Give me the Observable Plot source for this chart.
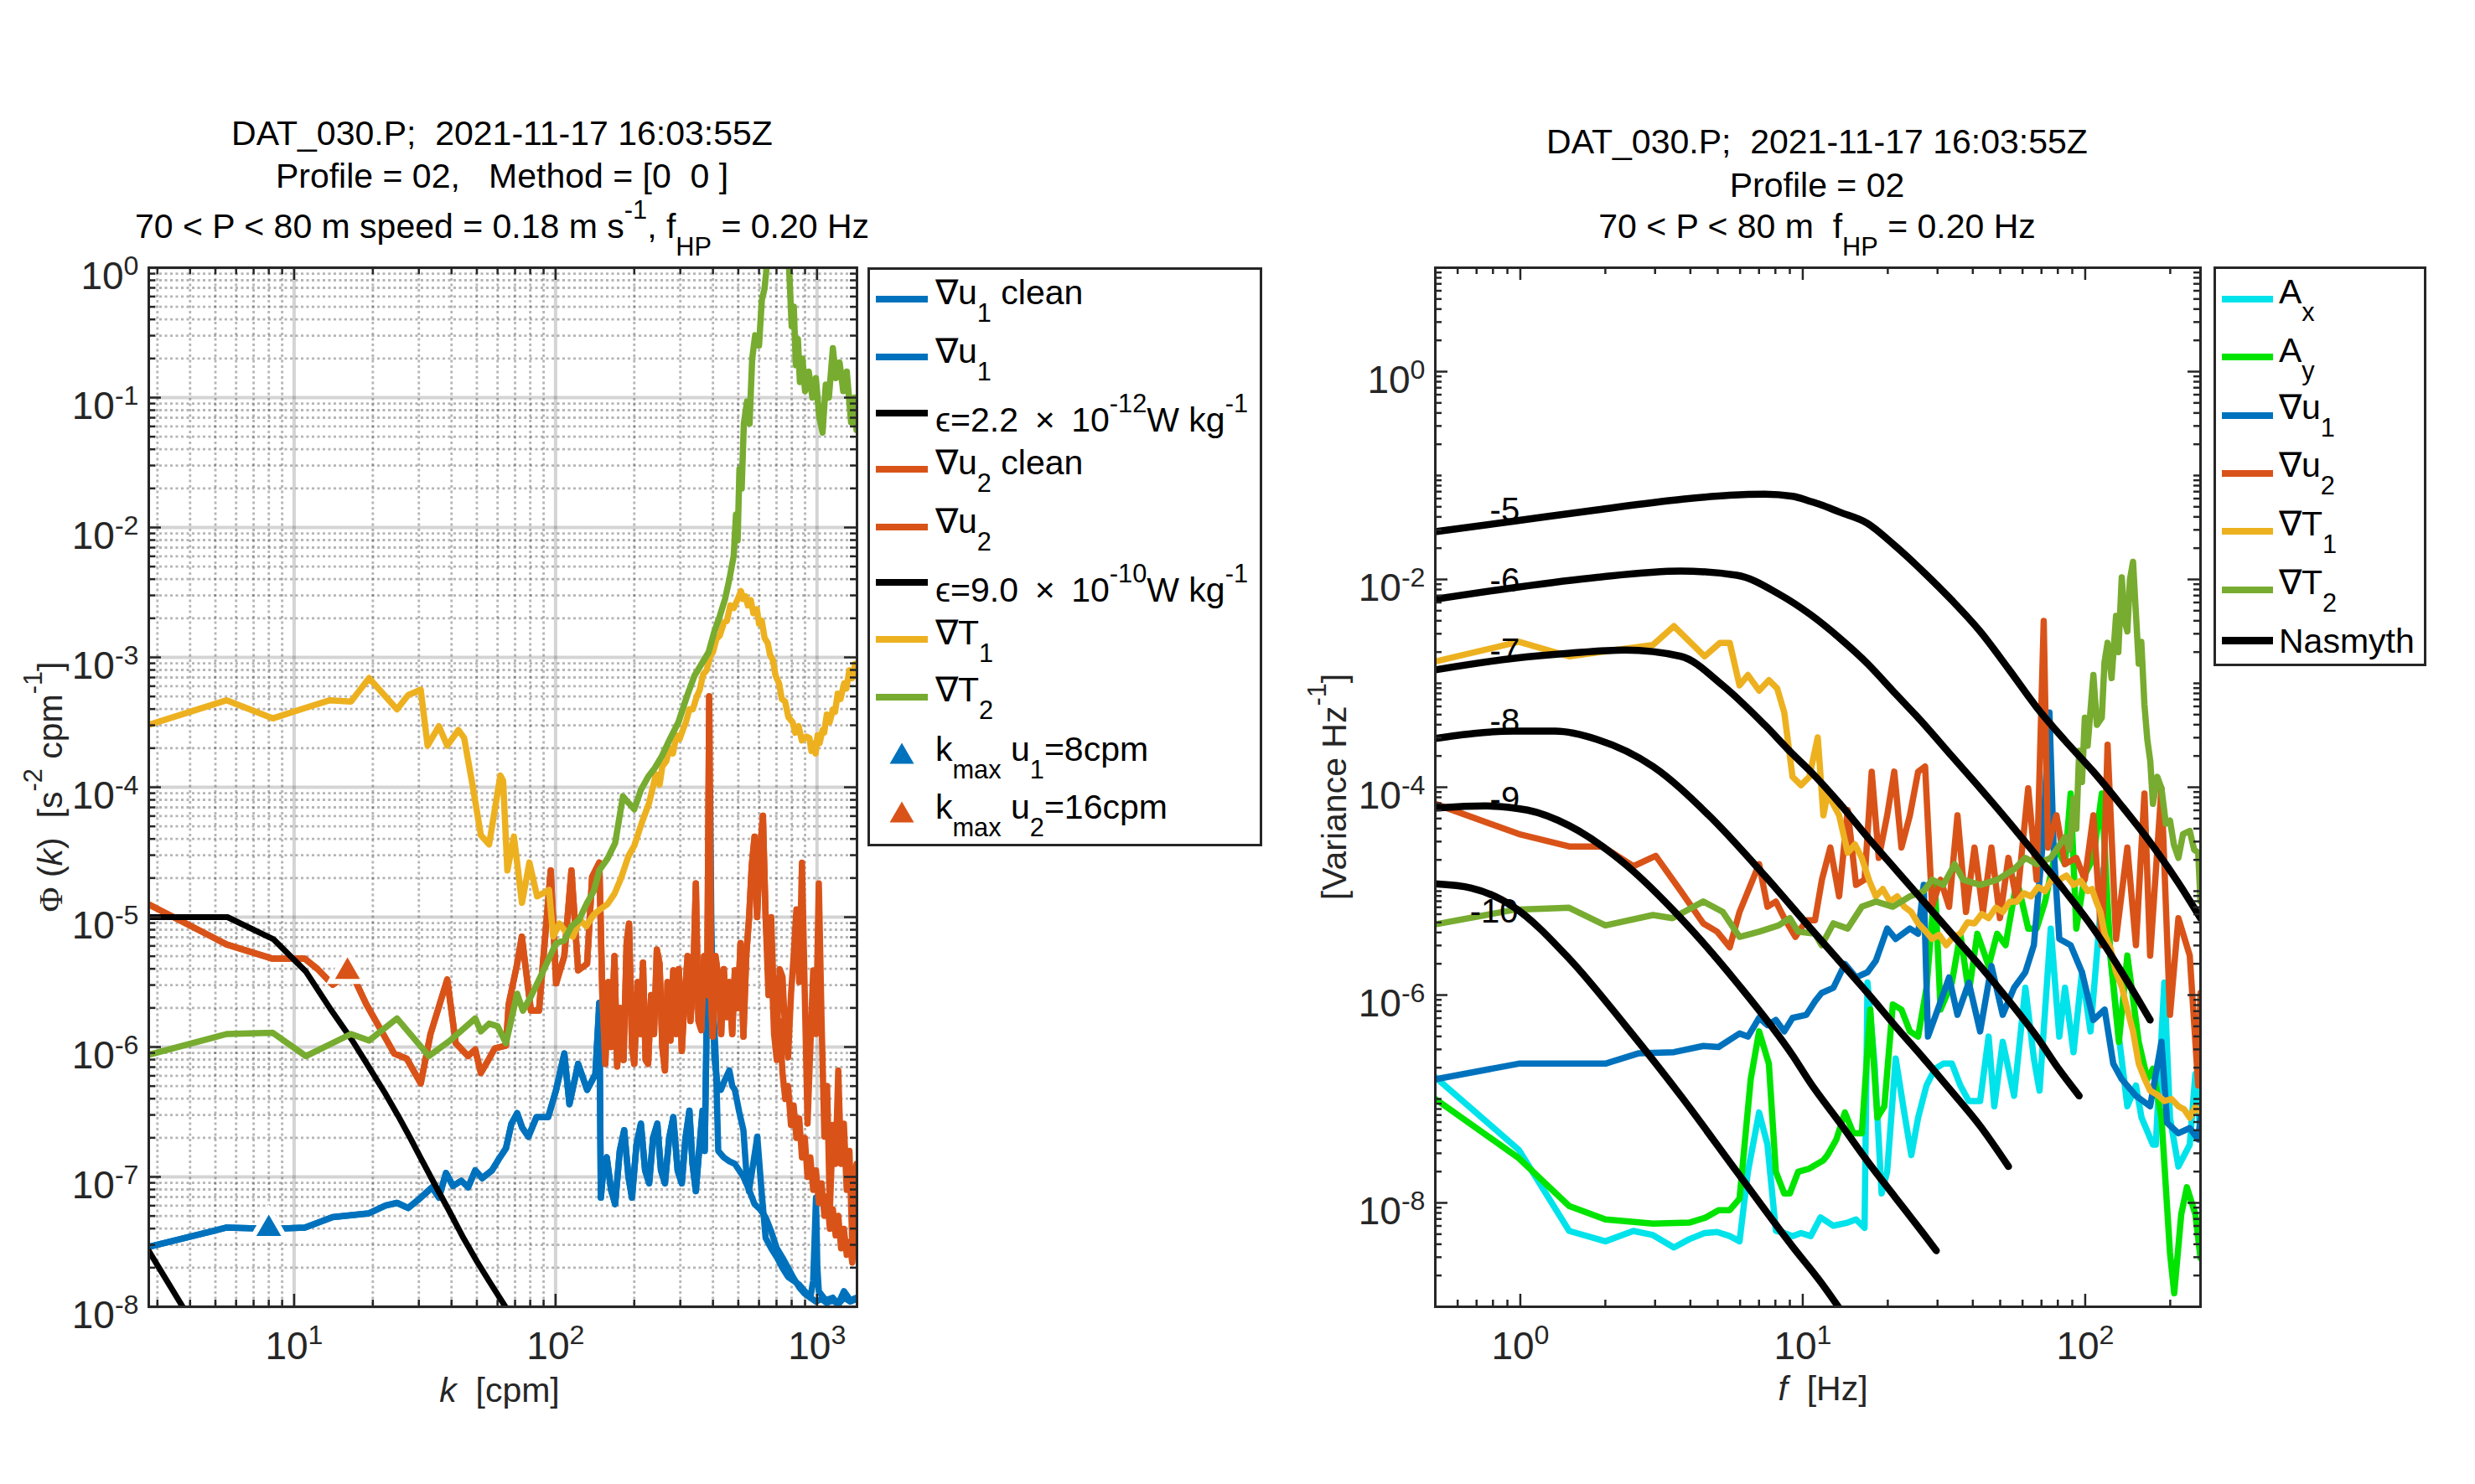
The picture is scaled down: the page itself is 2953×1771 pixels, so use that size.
<!DOCTYPE html>
<html>
<head>
<meta charset="utf-8">
<script src="https://cdn.jsdelivr.net/npm/d3@7"></script>
<script src="https://cdn.jsdelivr.net/npm/@observablehq/plot@0.6"></script>
<style>
html,body{margin:0;padding:0;background:#fff;}
#page{position:relative;width:2953px;height:1771px;overflow:hidden;background:#fff;font-family:"Liberation Sans",Arial,Helvetica,sans-serif;color:#000;}
#page > svg{position:absolute;top:0;}
.t{position:absolute;white-space:pre;font-size:41px;line-height:41px;}
.t sub{font-size:75%;vertical-align:-0.68em;line-height:0;}
.t sup{font-size:75%;vertical-align:0.75em;line-height:0;}
.box{position:absolute;border:3px solid #262626;background:#fff;box-sizing:border-box;}
.sw{position:absolute;}
.serif{font-family:"Liberation Serif","Times New Roman",serif;}
</style>
</head>
<body>
<div id="page"></div>
<script>
// ---------------- DATA (x, log10 of value) ----------------
// LEFT PANEL: wavenumber spectra, k in cpm
const L_u1 = [[2.77,-7.54],[3.82,-7.47],[5.52,-7.39],[8.28,-7.40],[10.99,-7.39],[14.05,-7.31],[19.35,-7.28],[22.4,-7.22],[24.75,-7.20],[27.3,-7.24],[30.5,-7.16],[33.7,-7.08],[35.8,-7.16],[38.1,-6.97],[40.5,-7.07],[43.6,-7.03],[46.3,-7.08],[49.3,-6.95],[52.4,-7.01],[57.1,-6.95],[60.8,-6.86],[64.6,-6.78],[67.8,-6.59],[71.3,-6.51],[74.5,-6.62],[78.7,-6.69],[84.5,-6.54],[93.7,-6.54],[100.5,-6.33],[108,-6.05],[113,-6.44],[122,-6.13],[132,-6.33],[142,-6.21],[147,-5.66],[149,-7.16],[153,-6.90],[157,-6.85],[163,-7.10],[169,-7.21],[176,-6.80],[183,-6.64],[190,-7.00],[196,-7.16],[204,-6.75],[212,-6.59],[220,-6.95],[228,-7.05],[236,-6.70],[245,-6.59],[253,-6.95],[262,-7.05],[272,-6.70],[282,-6.54],[293,-6.95],[304,-7.05],[314,-6.70],[325,-6.49],[334,-6.90],[344,-7.11],[354,-6.80],[365,-6.49],[372,-6.80],[380,-5.56],[386,-5.20],[390,-4.02],[394,-5.00],[399,-5.60],[405,-6.08],[417,-6.30],[429,-6.33],[445,-6.25],[462,-6.18],[474,-6.30],[485,-6.33],[504,-6.50],[523,-6.64],[536,-6.95],[549,-7.11],[570,-6.90],[591,-6.69],[613,-7.10],[636,-7.47],[668,-7.55],[702,-7.62],[737,-7.70],[775,-7.77],[814,-7.80],[855,-7.83],[898,-7.88],[943,-7.93],[967,-7.80],[991,-7.16],[1003,-7.70],[1016,-7.88],[1080,-7.95],[1148,-7.93],[1205,-7.98],[1268,-7.88],[1340,-7.95],[1416,-7.93]];
const L_u1cleanTail = [[380,-5.56],[390,-5.45],[399,-5.60],[410,-6.08],[419,-6.80],[440,-6.85],[462,-6.88],[485,-6.90],[504,-6.95],[523,-7.00],[550,-7.10],[577,-7.21],[606,-7.25],[636,-7.31],[668,-7.42],[702,-7.55],[737,-7.62],[775,-7.70],[814,-7.78],[855,-7.85],[898,-7.90],[943,-7.93],[991,-7.96],[1040,-7.94],[1090,-7.97],[1148,-7.95],[1205,-7.98],[1268,-7.93],[1340,-7.96],[1416,-7.94]];
const L_u2 = [[2.77,-4.90],[5.52,-5.21],[8.28,-5.32],[10.99,-5.32],[12.3,-5.40],[14.05,-5.52],[16.5,-5.42],[18.88,-5.67],[24.14,-6.05],[26.97,-6.09],[30.5,-6.28],[33.24,-5.90],[38.53,-5.48],[41.5,-5.97],[46.3,-6.07],[49.3,-6.02],[51.8,-6.20],[55.7,-6.09],[58.6,-6.01],[64.6,-5.99],[66.2,-5.67],[71.3,-5.36],[74.3,-5.15],[80.5,-5.72],[86.4,-5.72],[95.8,-4.64],[100.5,-5.51],[108,-5.30],[115,-4.64],[122,-5.41],[132,-5.36],[138,-4.69],[147,-4.58],[151,-5.60],[155,-6.13],[159,-5.50],[163,-6.00],[168,-5.30],[172,-6.15],[177,-5.70],[182,-6.10],[187,-5.20],[191,-5.05],[196,-6.00],[200,-6.13],[206,-5.50],[211,-5.90],[216,-5.35],[221,-6.10],[226,-6.13],[232,-5.60],[238,-5.90],[244,-5.25],[250,-5.36],[256,-6.00],[262,-6.18],[268,-5.50],[275,-5.95],[282,-5.41],[289,-5.90],[296,-5.40],[304,-6.03],[312,-5.60],[320,-5.30],[328,-5.80],[336,-5.50],[344,-4.74],[352,-5.80],[361,-5.87],[370,-5.30],[380,-5.60],[387,-3.30],[393,-5.60],[399,-5.92],[409,-5.30],[419,-5.46],[430,-5.90],[440,-5.40],[451,-5.77],[462,-5.50],[474,-5.90],[485,-5.41],[497,-5.70],[510,-5.20],[523,-5.92],[536,-5.30],[550,-5.00],[563,-4.60],[577,-4.38],[590,-5.00],[605,-4.50],[621,-4.22],[636,-5.00],[652,-5.41],[668,-5.00],[685,-5.70],[702,-5.92],[720,-5.40],[738,-5.46],[756,-5.90],[775,-6.08],[795,-5.60],[814,-5.30],[834,-4.94],[855,-5.50],[876,-4.58],[898,-5.60],[920,-6.59],[943,-6.00],[967,-5.41],[991,-5.90],[1016,-4.74],[1041,-5.80],[1067,-6.69],[1093,-6.30],[1120,-7.26],[1150,-6.60],[1178,-6.90],[1206,-6.18],[1236,-6.90],[1267,-6.59],[1299,-7.10],[1331,-6.80],[1364,-7.52],[1390,-7.00],[1416,-6.90]];
const L_u2cleanTail = [[563,-4.60],[577,-4.38],[590,-5.00],[605,-4.50],[621,-4.22],[636,-5.00],[652,-5.60],[668,-5.30],[685,-5.90],[702,-6.10],[720,-5.80],[738,-6.20],[756,-6.40],[775,-6.30],[795,-6.60],[814,-6.45],[834,-6.70],[855,-6.55],[876,-6.85],[898,-6.70],[920,-7.00],[943,-6.85],[967,-7.10],[991,-6.95],[1016,-7.20],[1041,-7.05],[1067,-7.30],[1093,-7.15],[1120,-7.40],[1150,-7.25],[1178,-7.45],[1206,-7.30],[1236,-7.55],[1267,-7.40],[1299,-7.60],[1331,-7.50],[1364,-7.66],[1390,-7.45],[1416,-7.60]];
const L_T1 = [[2.77,-3.52],[5.52,-3.33],[8.28,-3.47],[10.99,-3.39],[13.7,-3.33],[16.5,-3.34],[19.35,-3.16],[24.75,-3.40],[27.3,-3.29],[30.5,-3.25],[32.4,-3.68],[35.8,-3.53],[38.5,-3.68],[42.5,-3.56],[44.7,-3.62],[48.1,-3.98],[51.8,-4.37],[55.7,-4.44],[61.5,-3.91],[63,-3.95],[65.4,-4.64],[69.3,-4.38],[74.4,-4.89],[79.4,-4.58],[85,-4.84],[94.4,-4.79],[97.9,-5.15],[103.5,-5.05],[110,-5.12],[116.5,-5.15],[124,-5.02],[131,-5.07],[140,-4.98],[148,-4.94],[158,-4.90],[168,-4.82],[178,-4.70],[190,-4.53],[200,-4.45],[214,-4.27],[228,-4.12],[242,-3.90],[250,-3.98],[256,-3.84],[265,-3.80],[273,-3.70],[281,-3.74],[290,-3.60],[298,-3.63],[308,-3.55],[315,-3.50],[325,-3.40],[335,-3.40],[347,-3.30],[356,-3.25],[367,-3.13],[378,-3.10],[391,-2.99],[400,-2.96],[412,-2.86],[425,-2.83],[441,-2.73],[452,-2.72],[466,-2.60],[480,-2.62],[498,-2.55],[512,-2.49],[521,-2.55],[533,-2.53],[544,-2.60],[558,-2.56],[571,-2.66],[589,-2.63],[600,-2.74],[615,-2.72],[630,-2.85],[648,-2.89],[661,-2.98],[678,-3.02],[694,-3.14],[716,-3.20],[733,-3.32],[755,-3.34],[777,-3.46],[807,-3.50],[825,-3.58],[850,-3.53],[875,-3.64],[909,-3.61],[935,-3.62],[952,-3.72],[976,-3.66],[988,-3.74],[1005,-3.60],[1023,-3.66],[1050,-3.56],[1065,-3.58],[1090,-3.44],[1117,-3.50],[1151,-3.40],[1172,-3.42],[1200,-3.28],[1230,-3.32],[1270,-3.20],[1295,-3.24],[1330,-3.10],[1365,-3.16],[1400,-3.05]];
const L_T2 = [[2.77,-6.06],[5.52,-5.90],[8.28,-5.89],[11.1,-6.07],[16.5,-5.90],[19.35,-5.95],[24.75,-5.78],[32.8,-6.07],[39.5,-5.95],[49.3,-5.78],[51.8,-5.88],[55.7,-5.82],[60.0,-5.84],[64.6,-5.97],[71.3,-5.59],[75,-5.72],[80.5,-5.61],[88,-5.45],[100.5,-5.20],[108,-5.18],[115,-5.07],[123,-5.02],[132,-4.89],[140,-4.80],[147,-4.64],[158,-4.55],[169,-4.43],[181,-4.07],[190,-4.12],[200,-4.17],[212,-4.02],[226,-3.92],[240,-3.85],[255,-3.76],[275,-3.62],[295,-3.50],[318,-3.30],[340,-3.14],[362,-3.05],[385,-2.96],[405,-2.80],[425,-2.68],[445,-2.55],[462,-2.40],[480,-2.22],[490,-1.90],[497,-2.10],[505,-1.55],[515,-1.70],[525,-1.20],[540,-1.03],[552,-1.20],[565,-0.70],[580,-0.52],[600,-0.60],[615,-0.25],[630,-0.16],[645,0.05],[660,0.10],[680,0.20],[700,0.25],[720,0.20],[740,0.15],[760,0.10],[780,0.05],[800,-0.45],[815,-0.30],[830,-0.75],[845,-0.55],[860,-0.88],[880,-0.70],[900,-0.95],[930,-0.80],[960,-1.00],[990,-0.85],[1020,-1.15],[1050,-1.27],[1080,-0.90],[1110,-1.00],[1150,-0.62],[1180,-0.85],[1220,-0.73],[1260,-0.95],[1300,-0.80],[1350,-1.19],[1390,-1.00],[1416,-1.25]];
const L_eps1 = [[2.78,-7.57],[3.8,-8.02],[5.56,-8.6]];
const L_eps2 = [[2.78,-5.0],[5.56,-5.0],[8.33,-5.17],[11.1,-5.42],[13.9,-5.72],[16.7,-5.95],[19.4,-6.16],[22.2,-6.35],[25,-6.53],[27.8,-6.70],[30.6,-6.86],[33.3,-7.00],[38.9,-7.25],[44.4,-7.47],[50,-7.65],[55.6,-7.80],[61.1,-7.93],[66.7,-8.05],[72.2,-8.16]];
const L_kmax = [[8,-7.40],[16,-5.42]];

// RIGHT PANEL: frequency spectra, f in Hz
const R_Ax = [[0.5,-6.79],[0.988,-7.49],[1.489,-8.27],[2.001,-8.37],[2.513,-8.27],[2.948,-8.31],[3.497,-8.43],[3.964,-8.35],[4.493,-8.29],[4.977,-8.28],[5.514,-8.32],[5.972,-8.37],[6.395,-7.70],[7.005,-7.13],[7.499,-7.44],[8.03,-8.27],[8.6,-8.29],[9.2,-8.32],[9.86,-8.29],[10.67,-8.32],[11.56,-8.14],[12.83,-8.22],[14.42,-8.19],[15.44,-8.16],[16.55,-8.24],[16.95,-5.88],[17.95,-6.66],[19.02,-7.91],[19.9,-7.70],[21.33,-6.61],[22.87,-7.13],[24.23,-7.54],[25.61,-7.18],[27.42,-6.87],[29.37,-6.71],[31.47,-6.66],[33.73,-6.66],[36.13,-6.87],[38.72,-7.02],[42.46,-7.02],[45.5,-6.40],[47.65,-7.07],[51.06,-6.45],[56.0,-6.97],[61.4,-5.93],[65.8,-6.61],[68.9,-6.92],[75.5,-5.36],[80.97,-6.40],[84.8,-5.93],[90.9,-6.55],[97.4,-5.78],[104.4,-6.35],[111.9,-5.36],[115.8,-4.79],[122.8,-5.62],[131.6,-6.40],[141,-7.07],[151.2,-6.87],[158.3,-7.18],[173.7,-7.44],[177.8,-7.44],[190.6,-5.88],[199.6,-7.18],[213.8,-7.65],[234.5,-7.44],[245.5,-6.76],[256,-7.33]];
const R_Ay = [[0.5,-7.00],[0.988,-7.57],[1.489,-8.03],[2.001,-8.16],[2.948,-8.20],[3.964,-8.19],[4.545,-8.14],[5.034,-8.07],[5.514,-8.07],[5.972,-7.96],[6.543,-6.81],[7.005,-6.35],[7.585,-6.66],[8.03,-7.70],[8.6,-7.91],[9.0,-7.91],[9.63,-7.70],[10.55,-7.67],[11.83,-7.59],[12.24,-7.54],[13.15,-7.39],[14.1,-7.13],[15.1,-7.33],[16.18,-7.33],[17.34,-6.14],[18.37,-7.18],[19.45,-7.07],[20.84,-6.09],[22.36,-6.14],[23.95,-6.35],[25.61,-6.40],[27.42,-5.93],[29.37,-4.94],[30.75,-6.14],[33.73,-5.88],[36.13,-5.41],[38.72,-5.98],[41.5,-5.41],[45.5,-5.72],[48.76,-5.41],[52.25,-5.52],[57.3,-4.89],[62.83,-5.36],[67.3,-5.36],[72.1,-5.10],[79.1,-4.58],[84.8,-4.74],[88.8,-4.06],[93,-5.36],[99.7,-4.84],[106.9,-4.68],[114.5,-4.06],[122.8,-5.62],[131.6,-6.45],[141,-5.62],[154.7,-6.45],[165.9,-6.81],[173.7,-6.71],[186.2,-7.18],[199.6,-8.48],[206.6,-8.87],[218.8,-8.11],[229.1,-7.85],[245.5,-8.11],[256,-8.53]];
const R_u1 = [[0.5,-6.81],[0.988,-6.66],[2.001,-6.66],[2.631,-6.56],[3.497,-6.55],[4.442,-6.49],[5.034,-6.50],[5.972,-6.37],[6.395,-6.40],[7.005,-6.22],[7.499,-6.29],[8.03,-6.24],[8.6,-6.35],[9.2,-6.22],[10.3,-6.19],[11.05,-6.06],[11.66,-5.98],[12.83,-5.93],[14.1,-5.70],[15.44,-5.83],[16.95,-5.78],[18.15,-5.67],[19.9,-5.36],[21.33,-5.46],[23.95,-5.36],[25.61,-5.41],[26.8,-4.94],[27.75,-6.40],[30.05,-6.14],[32.96,-5.83],[35.3,-6.19],[38.72,-5.88],[42.46,-6.35],[46.56,-5.72],[51.06,-6.19],[56.0,-5.93],[61.4,-5.78],[65.8,-5.52],[70.5,-4.58],[74.7,-3.28],[77.3,-4.58],[80.97,-5.46],[88.8,-5.52],[97.4,-5.78],[106.9,-6.24],[117.2,-6.14],[125.7,-6.66],[134.7,-6.81],[151.2,-6.97],[169.8,-7.07],[186.2,-6.45],[195,-7.23],[213.8,-7.33],[234.5,-7.28],[251.2,-7.39],[256,-7.18]];
const R_u2 = [[0.5,-4.16],[0.988,-4.45],[1.489,-4.57],[1.957,-4.57],[2.513,-4.76],[3.016,-4.66],[3.702,-5.00],[4.442,-5.31],[4.977,-5.39],[5.514,-5.54],[5.972,-5.20],[7.005,-4.74],[7.499,-5.15],[8.03,-5.10],[8.6,-5.26],[9.42,-5.44],[10.3,-5.28],[11.05,-5.28],[11.69,-4.89],[12.52,-4.58],[13.45,-5.05],[14.42,-4.22],[15.44,-4.94],[16.55,-4.89],[17.54,-3.85],[18.58,-4.68],[19.9,-4.27],[21.08,-3.85],[22.36,-4.58],[23.95,-4.27],[25.61,-3.85],[27.11,-3.80],[28.7,-5.15],[30.75,-4.89],[32.96,-5.15],[35.3,-4.27],[37.83,-5.20],[40.55,-4.58],[43.45,-5.20],[46.56,-4.58],[49.9,-5.26],[53.47,-4.68],[57.3,-5.10],[62.83,-4.01],[67.3,-4.89],[71.3,-2.40],[73.8,-4.58],[79.1,-4.27],[84.8,-4.74],[93,-4.68],[99.7,-4.89],[106.9,-4.27],[114.5,-5.52],[120,-3.59],[128.6,-5.46],[141,-4.58],[151.2,-5.52],[162.1,-4.06],[169.8,-5.62],[186.2,-4.01],[199.6,-6.19],[213.8,-5.26],[234.5,-5.62],[251.2,-6.87],[256,-5.98]];
const R_T1 = [[0.5,-2.79],[0.988,-2.60],[1.489,-2.74],[2.948,-2.63],[3.497,-2.45],[4.493,-2.74],[5.092,-2.61],[5.514,-2.61],[5.972,-3.02],[6.395,-2.92],[7.005,-3.07],[7.585,-2.97],[8.12,-3.05],[8.6,-3.28],[9.2,-3.90],[9.86,-3.98],[10.55,-3.90],[11.3,-3.52],[11.83,-4.27],[12.24,-4.06],[13.45,-4.27],[14.42,-4.63],[15.3,-4.55],[16.18,-4.68],[17.2,-4.90],[18.15,-5.05],[19.2,-4.98],[20.37,-5.10],[21.6,-5.05],[22.87,-5.15],[24.2,-5.20],[25.61,-5.31],[27.1,-5.38],[28.7,-5.46],[30.4,-5.42],[32.2,-5.52],[34.1,-5.44],[36.13,-5.41],[38.3,-5.30],[40.55,-5.31],[43,-5.22],[45.5,-5.26],[48.2,-5.16],[51.06,-5.20],[54.1,-5.10],[57.3,-5.10],[60.7,-5.02],[64.3,-5.05],[68.1,-4.96],[72.1,-5.00],[76.4,-4.88],[80.97,-4.89],[85.8,-4.85],[90.9,-4.94],[96.3,-4.90],[102,-5.00],[105.7,-4.98],[109.4,-5.10],[113.2,-5.20],[117.2,-5.41],[122.8,-5.55],[128.6,-5.78],[134.7,-5.92],[141,-6.14],[147.7,-6.35],[154.7,-6.66],[162,-6.80],[169.8,-6.92],[180,-6.96],[190.6,-7.02],[202,-7.00],[213.8,-7.07],[224,-7.10],[234.5,-7.18],[245,-7.08],[256,-7.13]];
const R_T2 = [[0.5,-5.32],[0.944,-5.18],[1.489,-5.16],[2.001,-5.33],[2.948,-5.23],[3.457,-5.26],[4.442,-5.10],[5.21,-5.20],[5.972,-5.44],[7.005,-5.39],[8.216,-5.33],[9.0,-5.26],[9.63,-5.39],[11.05,-5.41],[11.66,-5.52],[12.83,-5.31],[14.42,-5.36],[16.18,-5.15],[18.15,-5.10],[20.84,-5.15],[23.95,-5.05],[26.8,-5.00],[28.7,-4.89],[31.47,-4.94],[34.5,-4.74],[36.97,-4.89],[42.46,-4.94],[48.76,-4.89],[56.0,-4.79],[61.4,-4.68],[67.3,-4.74],[75.5,-4.68],[84.8,-4.48],[88,-4.60],[90.9,-4.11],[93,-4.40],[95.2,-3.65],[97.4,-3.95],[99.7,-3.33],[102,-3.60],[106.9,-2.92],[110,-3.40],[114.5,-3.33],[117,-2.80],[120,-2.61],[124,-2.95],[128.6,-2.35],[131,-2.70],[134.7,-1.98],[138,-2.40],[141,-2.50],[144,-2.00],[147.7,-1.83],[151,-2.30],[154.7,-2.81],[158,-2.60],[162,-3.20],[165.9,-3.54],[170,-3.75],[173.7,-4.16],[180,-3.90],[186.2,-4.01],[193,-4.35],[199.6,-4.32],[206,-4.55],[213.8,-4.68],[222,-4.45],[234.5,-4.42],[243,-4.60],[251.2,-4.63],[256,-5.10]];
const R_N5 = [[0.5,-1.54],[0.944,-1.44],[1.87,-1.33],[3.70,-1.23],[5.5,-1.19],[7.33,-1.18],[9.2,-1.20],[10.67,-1.25],[11.56,-1.28],[13.45,-1.35],[16.95,-1.46],[21.3,-1.68],[26.8,-1.93],[33.7,-2.20],[42.46,-2.50],[53.5,-2.86],[67.3,-3.23],[84.8,-3.55],[106.9,-3.85],[134.7,-4.18],[169.8,-4.53],[213.8,-4.92],[256,-5.26]];
const R_N6 = [[0.5,-2.19],[0.944,-2.08],[1.87,-1.98],[3.70,-1.92],[5.84,-1.96],[8.22,-2.14],[10.67,-2.34],[13.45,-2.56],[16.95,-2.81],[21.3,-3.10],[26.8,-3.39],[33.7,-3.70],[42.46,-4.01],[53.5,-4.33],[67.3,-4.66],[84.8,-5.00],[106.9,-5.36],[134.7,-5.78],[169.8,-6.24]];
const R_N7 = [[0.5,-2.87],[0.944,-2.76],[1.5,-2.71],[2.35,-2.68],[3.70,-2.74],[5.21,-3.02],[7.33,-3.40],[9.2,-3.68],[10.67,-3.85],[13.45,-4.15],[16.95,-4.48],[21.3,-4.79],[26.8,-5.10],[33.7,-5.41],[42.46,-5.72],[53.5,-6.05],[67.3,-6.40],[80,-6.70],[95.2,-6.97]];
const R_N8 = [[0.5,-3.53],[0.944,-3.46],[1.33,-3.46],[1.87,-3.54],[2.95,-3.80],[4.65,-4.27],[7.33,-4.85],[10.67,-5.36],[13.45,-5.67],[16.95,-5.98],[21.3,-6.30],[26.8,-6.61],[33.7,-6.93],[42.46,-7.26],[53.5,-7.65]];
const R_N9 = [[0.5,-4.20],[0.751,-4.18],[1.06,-4.22],[1.49,-4.37],[2.35,-4.74],[3.70,-5.26],[5.84,-5.88],[9.2,-6.58],[10.67,-6.85],[13.45,-7.22],[16.95,-7.60],[21.3,-7.95],[26.8,-8.30],[29.7,-8.46]];
const R_N10 = [[0.5,-4.93],[0.671,-4.97],[0.944,-5.15],[1.49,-5.65],[2.35,-6.29],[3.70,-6.97],[5.84,-7.70],[9.2,-8.42],[11.56,-8.76],[14.1,-9.09],[16,-9.3]];
const R_nasLabels = [["-5",0.78,-1.34],["-6",0.78,-2.01],["-7",0.78,-2.69],["-8",0.78,-3.37],["-9",0.78,-4.12],["-10",0.663,-5.20]];

// ticks
const L_xMajor = [10, 100, 1000];
const L_xMinor = [3,4,5,6,7,8,9,20,30,40,50,60,70,80,90,200,300,400,500,600,700,800,900];
const L_yMajor = [1e-8,1e-7,1e-6,1e-5,1e-4,1e-3,1e-2,1e-1,1];
const R_xMajor = [1, 10, 100];
const R_xMinor = [0.6,0.7,0.8,0.9,2,3,4,5,6,7,8,9,20,30,40,50,60,70,80,90,200];
const R_yMajor = [1e-8,1e-6,1e-4,1e-2,1];
const mult = [2,3,4,5,6,7,8,9];
const L_yMinor = [-8,-7,-6,-5,-4,-3,-2,-1].flatMap(e => mult.map(m => m * Math.pow(10, e)));
const R_yMinor = [-9,-8,-7,-6,-5,-4,-3,-2,-1,0].flatMap(e => mult.map(m => m * Math.pow(10, e))).concat([1e-7,1e-5,1e-3,1e-1]);

// legend labels
const L_legend = ["∇u<sub>1</sub> clean","∇u<sub>1</sub>","ϵ=2.2&thinsp; × &thinsp;10<sup>-12</sup>W kg<sup>-1</sup>","∇u<sub>2</sub> clean","∇u<sub>2</sub>","ϵ=9.0&thinsp; × &thinsp;10<sup>-10</sup>W kg<sup>-1</sup>","∇T<sub>1</sub>","∇T<sub>2</sub>","k<sub>max</sub> u<sub>1</sub>=8cpm","k<sub>max</sub> u<sub>2</sub>=16cpm"];
const R_legend = ["A<sub>x</sub>","A<sub>y</sub>","∇u<sub>1</sub>","∇u<sub>2</sub>","∇T<sub>1</sub>","∇T<sub>2</sub>","Nasmyth"];

// ---------------- STYLE ----------------
const FONT = '"Liberation Sans", Arial, Helvetica, sans-serif';
const blue="#0072BD", orange="#D95319", yellow="#EDB120", green="#77AC30", cyan="#00E3EA", lime="#00E400", black="#000000", axc="#262626";
const page = document.getElementById("page");
const P = arr => arr.map(([x, l]) => ({x, y: Math.pow(10, l)}));
const fmtPow = d => "10^" + Math.round(Math.log10(d));
const LW = 7.5;

function ln(arr, stroke, w, curve) {
  return Plot.line(P(arr), {x: "x", y: "y", stroke, strokeWidth: w, strokeLinejoin: "round", curve: curve || "linear", clip: true});
}
function tickMarks(xMaj, xMin, yMaj, yMin, fw, fh) {
  const M = 15, m = 8, sw = 2.5;
  return [
    Plot.tickX(xMaj, {stroke: axc, strokeWidth: sw, insetTop: fh - M}),
    Plot.tickX(xMaj, {stroke: axc, strokeWidth: sw, insetBottom: fh - M}),
    Plot.tickX(xMin, {stroke: axc, strokeWidth: sw, insetTop: fh - m}),
    Plot.tickX(xMin, {stroke: axc, strokeWidth: sw, insetBottom: fh - m}),
    Plot.tickY(yMaj, {stroke: axc, strokeWidth: sw, insetRight: fw - M}),
    Plot.tickY(yMaj, {stroke: axc, strokeWidth: sw, insetLeft: fw - M}),
    Plot.tickY(yMin, {stroke: axc, strokeWidth: sw, insetRight: fw - m}),
    Plot.tickY(yMin, {stroke: axc, strokeWidth: sw, insetLeft: fw - m})
  ];
}
function supTicks(svg) {
  svg.querySelectorAll('[aria-label$="tick label"] text').forEach(t => {
    const s = t.textContent, i = s.indexOf("^");
    if (i < 0) return;
    t.textContent = s.slice(0, i);
    const ts = document.createElementNS("http://www.w3.org/2000/svg", "tspan");
    ts.setAttribute("dy", "-0.55em");
    ts.setAttribute("font-size", "0.7em");
    ts.textContent = s.slice(i + 1);
    t.appendChild(ts);
  });
}
function kmaxDots(d, color) {
  const o = {x: v => v[0], y: v => Math.pow(10, v[1]), symbol: "triangle"};
  return [
    Plot.dot([d], {...o, r: 19, fill: "#ffffff", stroke: "none"}),
    Plot.dot([d], {...o, r: 11, fill: color, stroke: "none"})
  ];
}

// ---------------- LEFT PLOT ----------------
const Lx0 = 177, Lx1 = 1022, Ly0 = 319, Ly1 = 1559;
const LW_svg = 1110;
const u1clean = L_u1.filter(d => d[0] < 380).concat(L_u1cleanTail);
const u2clean = L_u2.filter(d => d[0] < 560).concat(L_u2cleanTail);
const leftPlot = Plot.plot({
  width: LW_svg, height: 1771,
  marginLeft: Lx0, marginRight: LW_svg - Lx1, marginTop: Ly0, marginBottom: 1771 - Ly1,
  x: {type: "log", domain: [2.78, 1422]},
  y: {type: "log", domain: [1e-8, 1]},
  style: {fontFamily: FONT, fontSize: "46px", color: axc, background: "transparent", overflow: "visible"},
  marks: [
    Plot.ruleY(L_yMinor, {stroke: axc, strokeOpacity: 0.34, strokeWidth: 2.8, strokeDasharray: "3,3.5"}),
    Plot.ruleX(L_xMinor, {stroke: axc, strokeOpacity: 0.34, strokeWidth: 2.8, strokeDasharray: "3,3.5"}),
    Plot.ruleY(L_yMajor, {stroke: axc, strokeOpacity: 0.2, strokeWidth: 4}),
    Plot.ruleX(L_xMajor, {stroke: axc, strokeOpacity: 0.2, strokeWidth: 4}),
    ln(u1clean, blue, LW),
    ln(L_u1, blue, LW),
    ln(L_eps1, black, 7),
    ln(u2clean, orange, LW),
    ln(L_u2, orange, LW),
    ln(L_eps2, black, 7),
    ln(L_T1, yellow, LW),
    ln(L_T2, green, LW),
    ...kmaxDots(L_kmax[0], blue),
    ...kmaxDots(L_kmax[1], orange),
    Plot.frame({stroke: axc, strokeWidth: 3}),
    ...tickMarks(L_xMajor, L_xMinor, L_yMajor, L_yMinor, Lx1 - Lx0, Ly1 - Ly0),
    Plot.axisX({ticks: L_xMajor, tickFormat: fmtPow, tickSize: 0, tickPadding: 30, label: null, fontSize: 46}),
    Plot.axisY({ticks: L_yMajor, tickFormat: fmtPow, tickSize: 0, tickPadding: 12, label: null, fontSize: 46, dy: 11})
  ]
});
leftPlot.style.left = "0px";
supTicks(leftPlot);
page.appendChild(leftPlot);

// ---------------- RIGHT PLOT ----------------
const RS = 1500, Rx0 = 1712, Rx1 = 2625, Ry0 = 319, Ry1 = 1559;
const RW_svg = 1200;
const NW = 8.5;
const rightPlot = Plot.plot({
  width: RW_svg, height: 1771,
  marginLeft: Rx0 - RS, marginRight: RS + RW_svg - Rx1, marginTop: Ry0, marginBottom: 1771 - Ry1,
  x: {type: "log", domain: [0.5, 256]},
  y: {type: "log", domain: [1e-9, 10]},
  style: {fontFamily: FONT, fontSize: "46px", color: axc, background: "transparent", overflow: "visible"},
  marks: [
    ln(R_Ax, cyan, LW),
    ln(R_Ay, lime, LW),
    ln(R_u1, blue, LW),
    ln(R_u2, orange, LW),
    ln(R_T1, yellow, LW),
    ln(R_T2, green, LW),
    Plot.text(R_nasLabels, {x: d => d[1], y: d => Math.pow(10, d[2]), text: d => d[0], textAnchor: "start", fontSize: 40, fill: "#000"}),
    ln(R_N5, black, NW, "monotone-x"), ln(R_N6, black, NW, "monotone-x"), ln(R_N7, black, NW, "monotone-x"),
    ln(R_N8, black, NW, "monotone-x"), ln(R_N9, black, NW, "monotone-x"), ln(R_N10, black, NW, "monotone-x"),
    Plot.frame({stroke: axc, strokeWidth: 3}),
    ...tickMarks(R_xMajor, R_xMinor, R_yMajor, R_yMinor, Rx1 - Rx0, Ry1 - Ry0),
    Plot.axisX({ticks: R_xMajor, tickFormat: fmtPow, tickSize: 0, tickPadding: 30, label: null, fontSize: 46}),
    Plot.axisY({ticks: R_yMajor, tickFormat: fmtPow, tickSize: 0, tickPadding: 12, label: null, fontSize: 46, dy: 11})
  ]
});
rightPlot.style.left = RS + "px";
supTicks(rightPlot);
page.appendChild(rightPlot);

// ---------------- HTML TEXT ----------------
function txt(html, x, baseline, opt = {}) {
  const size = opt.size || 41;
  const d = document.createElement("div");
  d.className = "t";
  d.innerHTML = html;
  d.style.fontSize = size + "px";
  d.style.lineHeight = size + "px";
  if (opt.color) d.style.color = opt.color;
  if (opt.rotate) {
    d.style.left = x + "px"; d.style.top = baseline + "px";
    d.style.transform = "translate(-50%,-50%) rotate(-90deg)";
  } else {
    d.style.top = (baseline - 0.8465 * size) + "px";
    d.style.left = x + "px";
    if (opt.anchor === "middle") d.style.transform = "translateX(-50%)";
  }
  page.appendChild(d);
  return d;
}
function box(x1, y1, x2, y2) {
  const d = document.createElement("div");
  d.className = "box";
  Object.assign(d.style, {left: x1 + "px", top: y1 + "px", width: (x2 - x1) + "px", height: (y2 - y1) + "px"});
  page.appendChild(d);
}
function swatch(x1, x2, y, color, w) {
  const d = document.createElement("div");
  d.className = "sw";
  Object.assign(d.style, {left: x1 + "px", top: (y - w / 2) + "px", width: (x2 - x1) + "px", height: w + "px", background: color});
  page.appendChild(d);
}
function tri(cx, cy, color) {
  const s = document.createElementNS("http://www.w3.org/2000/svg", "svg");
  s.setAttribute("width", 40); s.setAttribute("height", 40);
  Object.assign(s.style, {position: "absolute", left: (cx - 20) + "px", top: (cy - 20) + "px"});
  const p = document.createElementNS("http://www.w3.org/2000/svg", "polygon");
  p.setAttribute("points", "5.5,32.5 34.5,32.5 20,7.5");
  p.setAttribute("fill", color);
  s.appendChild(p);
  page.appendChild(s);
}

// titles
txt("DAT_030.P;  2021-11-17 16:03:55Z", 599, 174, {anchor: "middle"});
txt("Profile = 02,   Method = [0  0 ]", 599, 225, {anchor: "middle"});
txt("70 &lt; P &lt; 80 m speed = 0.18 m s<sup>-1</sup>, f<sub>HP</sub> = 0.20 Hz", 599, 285, {anchor: "middle"});
txt("DAT_030.P;  2021-11-17 16:03:55Z", 2168, 184, {anchor: "middle"});
txt("Profile = 02", 2168, 236, {anchor: "middle"});
txt("70 &lt; P &lt; 80 m  f<sub>HP</sub> = 0.20 Hz", 2168, 285, {anchor: "middle"});

// axis labels
txt("<i>k</i>  [cpm]", 596, 1674, {anchor: "middle", color: axc});
txt("<i>f</i>  [Hz]", 2175, 1672, {anchor: "middle", color: axc});
txt('<span class="serif">Φ</span> (<i>k</i>)  [s<sup>-2</sup> cpm<sup>-1</sup>]', 60, 939, {rotate: true, color: axc});
txt("[Variance Hz<sup>-1</sup>]", 1592, 939, {rotate: true, color: axc});

// left legend
box(1035, 319, 1506, 1010);
const Lsw = [357, 426, 493, 560, 629, 695, 763, 832];
const Lbase = [364, 434, 516, 567, 637, 719, 770, 838, 909, 978];
const Lcol = [blue, blue, black, orange, orange, black, yellow, green];
Lsw.forEach((y, i) => swatch(1045, 1107, y, Lcol[i], 7.5));
tri(1076, 899, blue);
tri(1076, 969, orange);
L_legend.forEach((h, i) => txt(h, 1116, Lbase[i]));

// right legend
box(2641, 318, 2895, 795);
const Rsw = [357, 426, 496, 565, 634, 704, 764];
const Rbase = [363, 433, 501, 570, 640, 710, 780];
const Rcol = [cyan, lime, blue, orange, yellow, green, black];
Rsw.forEach((y, i) => swatch(2651, 2712, y, Rcol[i], i === 6 ? 9 : 7.5));
R_legend.forEach((h, i) => txt(h, 2719, Rbase[i]));
</script>
</body>
</html>
